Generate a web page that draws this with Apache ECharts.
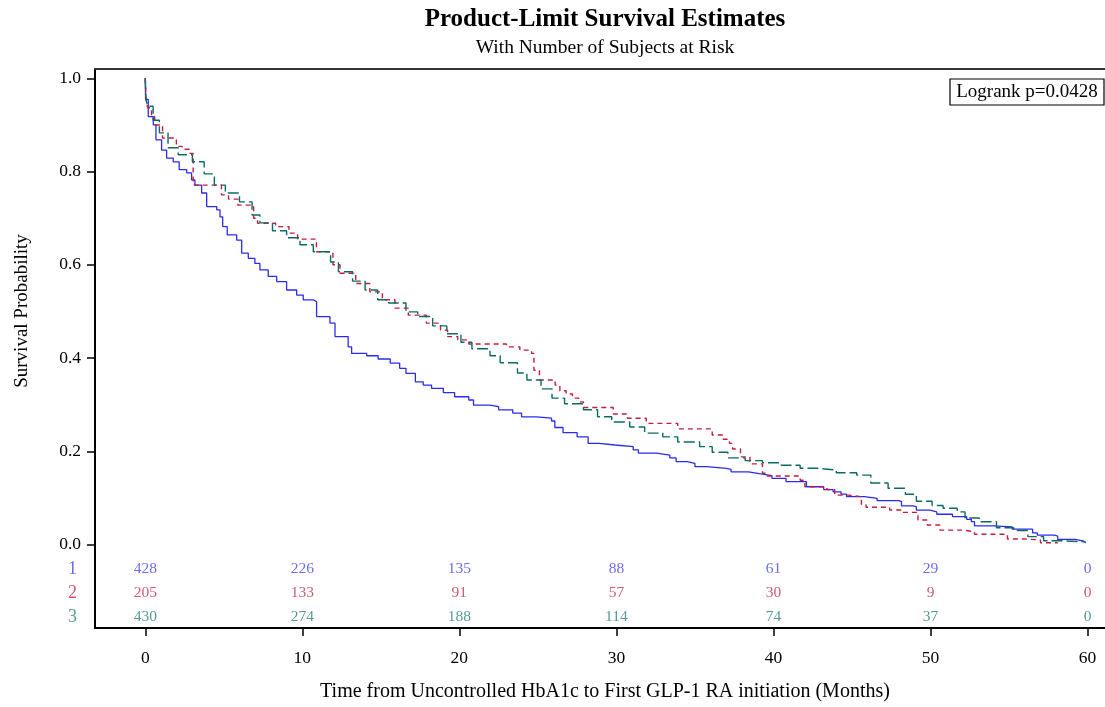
<!DOCTYPE html>
<html>
<head>
<meta charset="utf-8">
<script src="https://cdn.jsdelivr.net/npm/echarts@6/dist/echarts.min.js"></script>
<style>
html,body{margin:0;padding:0;background:#fff;}
#chart{width:1105px;height:707px;}
</style>
</head>
<body>
<div id="chart"></div>
<script>
// ---- data ----
var groupNames = ['1', '2', '3'];
var xTicks = [0, 10, 20, 30, 40, 50, 60];
var yTicks = [0, 0.2, 0.4, 0.6, 0.8, 1.0];

var atRisk1 = [428, 226, 135, 88, 61, 29, 0];
var atRisk2 = [205, 133, 91, 57, 30, 9, 0];
var atRisk3 = [430, 274, 188, 114, 74, 37, 0];

// step points [time, survival after time]
var surv1 = [[0,1.0],[0.02,0.955],[0.19,0.918],[0.51,0.90],[0.68,0.868],[1.04,0.846],[1.36,0.829],[1.78,0.821],[2.16,0.804],[2.64,0.797],[2.95,0.782],[3.16,0.771],[3.59,0.754],[3.91,0.725],[4.55,0.718],[4.76,0.703],[4.93,0.682],[5.22,0.664],[5.82,0.653],[6.14,0.625],[6.56,0.614],[6.98,0.603],[7.30,0.589],[7.83,0.575],[8.37,0.564],[9.0,0.546],[9.64,0.535],[10.06,0.525],[10.7,0.521],[10.91,0.489],[11.76,0.475],[12.08,0.446],[12.92,0.424],[13.14,0.410],[14.1,0.405],[14.83,0.398],[15.6,0.389],[16.2,0.378],[16.6,0.367],[17.2,0.349],[17.7,0.342],[18.23,0.335],[18.98,0.326],[19.7,0.317],[20.6,0.310],[20.9,0.299],[21.95,0.296],[22.5,0.289],[23.4,0.282],[23.96,0.274],[24.9,0.271],[25.87,0.265],[26.08,0.251],[26.6,0.240],[27.5,0.231],[28.2,0.217],[28.9,0.2135],[29.9,0.210],[31.07,0.203],[31.4,0.196],[32.56,0.192],[33.4,0.186],[33.8,0.178],[34.5,0.174],[35.0,0.167],[35.74,0.1635],[37.0,0.161],[37.3,0.156],[38.4,0.152],[39.1,0.148],[39.9,0.142],[40.8,0.135],[42.1,0.124],[43.2,0.118],[43.8,0.113],[44.3,0.108],[44.65,0.103],[45.8,0.099],[46.6,0.094],[48.0,0.092],[48.15,0.083],[48.9,0.081],[49.1,0.074],[49.96,0.070],[50.4,0.065],[51.4,0.060],[52.3,0.054],[52.6,0.049],[52.8,0.040],[54.0,0.038],[55.2,0.033],[56.5,0.025],[56.8,0.020],[57.9,0.018],[58.1,0.011],[59.2,0.008],[59.7,0.004],[59.9,0.004]];

var surv2 = [[0,1.0],[0.05,0.955],[0.15,0.937],[0.4,0.918],[0.6,0.900],[1.1,0.872],[1.98,0.854],[2.35,0.848],[2.8,0.839],[3.05,0.771],[4.85,0.750],[5.3,0.741],[5.9,0.728],[6.9,0.700],[7.15,0.689],[8.3,0.682],[9.15,0.668],[9.7,0.655],[10.9,0.628],[11.95,0.600],[12.4,0.582],[13.4,0.560],[14.3,0.542],[15.1,0.525],[15.9,0.507],[16.75,0.492],[17.9,0.475],[18.8,0.460],[19.25,0.446],[19.9,0.439],[20.6,0.430],[23.0,0.424],[23.85,0.417],[24.6,0.41],[24.75,0.374],[25.1,0.353],[26.1,0.342],[26.4,0.330],[26.8,0.323],[27.2,0.314],[27.6,0.306],[27.9,0.294],[29.8,0.280],[30.7,0.271],[31.9,0.260],[33.9,0.248],[36.1,0.235],[36.8,0.226],[37.2,0.217],[37.4,0.205],[37.9,0.188],[38.5,0.173],[39.3,0.153],[39.6,0.147],[41.7,0.138],[42.0,0.124],[43.4,0.118],[43.9,0.106],[44.8,0.1026],[45.6,0.085],[45.9,0.080],[47.4,0.074],[48.2,0.069],[49.2,0.0526],[49.8,0.042],[50.6,0.031],[52.05,0.0275],[52.8,0.022],[54.9,0.012],[55.9,0.010],[57.0,0.004],[58.1,0.004]];

var surv3 = [[0,1.0],[0.05,0.955],[0.15,0.94],[0.5,0.91],[0.9,0.883],[1.45,0.851],[2.1,0.836],[3.0,0.821],[3.75,0.795],[4.4,0.771],[5.1,0.754],[6.0,0.735],[6.8,0.707],[7.3,0.690],[8.1,0.673],[9.0,0.658],[9.85,0.643],[10.7,0.628],[11.8,0.606],[12.3,0.585],[13.2,0.565],[14.0,0.546],[14.8,0.525],[15.5,0.518],[16.6,0.499],[17.35,0.489],[18.3,0.469],[19.2,0.452],[20.1,0.434],[20.8,0.420],[21.95,0.405],[22.6,0.390],[23.7,0.368],[24.3,0.353],[25.2,0.334],[25.9,0.314],[26.7,0.302],[27.9,0.289],[28.8,0.274],[29.7,0.263],[30.85,0.252],[31.8,0.239],[32.95,0.231],[33.9,0.220],[35.3,0.210],[36.1,0.198],[37.1,0.186],[38.2,0.180],[39.3,0.1755],[40.5,0.170],[41.7,0.1635],[42.8,0.160],[44.0,0.154],[45.3,0.149],[46.2,0.132],[47.3,0.1206],[48.4,0.108],[49.1,0.093],[50.1,0.0837],[50.8,0.078],[51.7,0.070],[52.2,0.057],[53.1,0.049],[54.2,0.036],[55.3,0.030],[56.2,0.017],[57.2,0.008],[58.5,0.006],[59.8,0.006]];

var riskRowY = [-0.0532, -0.1047, -0.1562];

// ---- styles ----
var colors = ['#2b2bee', '#c21d3c', '#0b6b61'];
var textColors = ['#4646ec', '#c43048', '#2a8276'];
var FONT = '"Liberation Serif", "DejaVu Serif", serif';
var X_MIN = -3.2, X_MAX = 61.11, Y_MIN = -0.179, Y_MAX = 1.020;

function riskData(arr, row) {
  return arr.map(function (n, i) { return [xTicks[i], riskRowY[row], n]; });
}
function riskSeries(arr, row) {
  return {
    type: 'scatter', data: riskData(arr, row), symbolSize: 0, silent: true,
    label: { show: true, position: 'inside', formatter: function (p) { return String(p.value[2]); },
      color: textColors[row], fontFamily: FONT, fontSize: 15.5 }
  };
}
function rowLabelSeries(row) {
  return {
    type: 'scatter', data: [[X_MIN, riskRowY[row], groupNames[row]]], symbolSize: 0, silent: true,
    label: { show: true, position: 'left', distance: 18, formatter: function (p) { return p.value[2]; },
      color: textColors[row], fontFamily: FONT, fontSize: 18 }
  };
}

var chart = echarts.init(document.getElementById('chart'), null, { renderer: 'canvas' });
chart.setOption({
  animation: false,
  backgroundColor: '#fff',
  grid: { left: 95, top: 69, right: 0, bottom: 79, show: false, containLabel: false },
  xAxis: [{
    type: 'value', min: X_MIN, max: X_MAX, position: 'bottom',
    axisLine: { show: true, onZero: false, lineStyle: { color: '#000', width: 2 } },
    axisTick: { show: true, inside: false, length: 8, customValues: xTicks, lineStyle: { color: '#000', width: 1.5 } },
    axisLabel: { customValues: xTicks, margin: 21, fontFamily: FONT, fontSize: 17.5, color: '#000' },
    splitLine: { show: false }
  }, {
    type: 'value', min: X_MIN, max: X_MAX, position: 'top',
    axisLine: { show: true, onZero: false, lineStyle: { color: '#333', width: 2 } },
    axisTick: { show: false }, axisLabel: { show: false }, splitLine: { show: false }
  }],
  yAxis: {
    type: 'value', min: Y_MIN, max: Y_MAX,
    axisLine: { show: true, onZero: false, lineStyle: { color: '#000', width: 2 } },
    axisTick: { show: true, inside: false, length: 8, customValues: yTicks, lineStyle: { color: '#000', width: 1.5 } },
    axisLabel: { customValues: yTicks, margin: 14, fontFamily: FONT, fontSize: 17.5, color: '#000',
      formatter: function (v) { return v.toFixed(1); } },
    splitLine: { show: false }
  },
  graphic: [
    { type: 'text', x: 605, y: 20,
      style: { text: 'Product-Limit Survival Estimates', font: 'bold 25px ' + FONT, fill: '#000', align: 'center', verticalAlign: 'middle' } },
    { type: 'text', x: 605, y: 48,
      style: { text: 'With Number of Subjects at Risk', font: '19.5px ' + FONT, fill: '#000', align: 'center', verticalAlign: 'middle' } },
    { type: 'text', x: 22, y: 311, rotation: Math.PI / 2,
      style: { text: 'Survival Probability', font: '19px ' + FONT, fill: '#000', align: 'center', verticalAlign: 'middle' } },
    { type: 'text', x: 605, y: 692,
      style: { text: 'Time from Uncontrolled HbA1c to First GLP-1 RA initiation (Months)', font: '20px ' + FONT, fill: '#000', align: 'center', verticalAlign: 'middle' } },
    { type: 'group', x: 950, y: 79, children: [
      { type: 'rect', shape: { x: 0, y: 0, width: 154, height: 26 }, style: { fill: '#fff', stroke: '#000', lineWidth: 1.2 } },
      { type: 'text', x: 77, y: 13, style: { text: 'Logrank p=0.0428', font: '19px ' + FONT, fill: '#000', align: 'center', verticalAlign: 'middle' } }
    ] }
  ],
  series: [
    { name: '1', type: 'line', step: 'end', data: surv1, showSymbol: false, z: 3,
      lineStyle: { color: colors[0], width: 1.3, type: 'solid' } },
    { name: '2', type: 'line', step: 'end', data: surv2, showSymbol: false, z: 4,
      lineStyle: { color: colors[1], width: 1.4, type: [5, 4] } },
    { name: '3', type: 'line', step: 'end', data: surv3, showSymbol: false, z: 5,
      lineStyle: { color: colors[2], width: 1.4, type: [11, 4] } },
    riskSeries(atRisk1, 0), riskSeries(atRisk2, 1), riskSeries(atRisk3, 2),
    rowLabelSeries(0), rowLabelSeries(1), rowLabelSeries(2)
  ]
});
</script>
</body>
</html>
